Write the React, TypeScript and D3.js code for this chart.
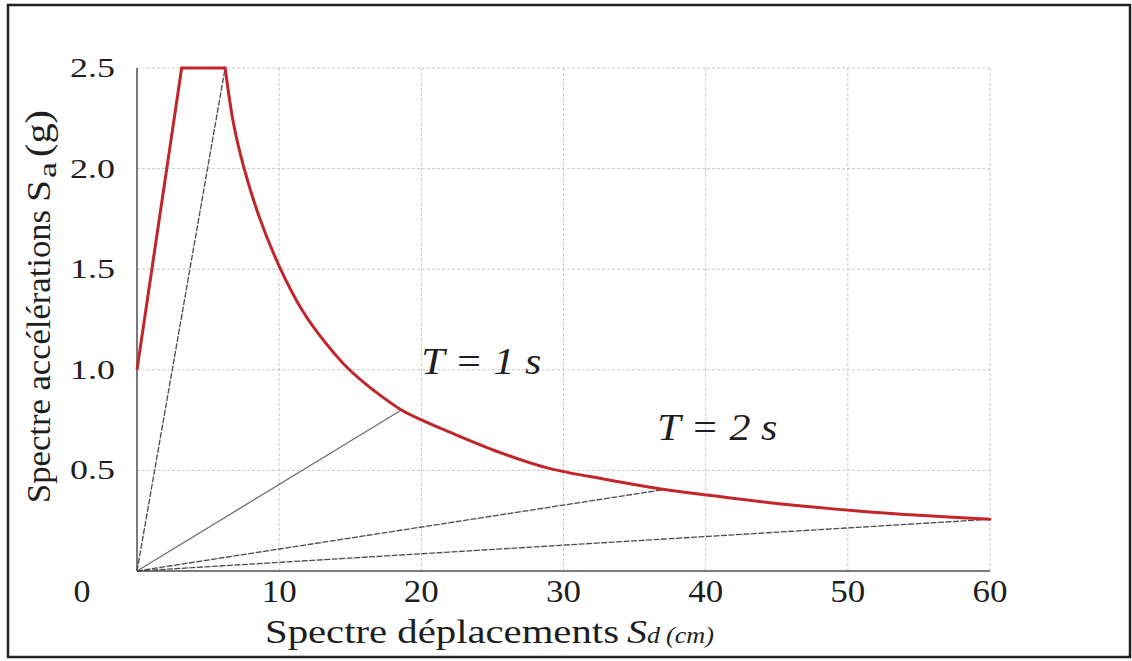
import React from "react";
import * as d3 from "d3";

// Spectral displacement Sd (cm) vs spectral acceleration Sa (g), ADRS format
const rampSd = [0, 3.14, 6.2];
const rampSa = [1.0, 2.5, 2.5];

// Constant-velocity branch, down to the corner near Sd = 16.6 cm
const velocitySd = [6.2, 6.8, 7.5, 8.6, 10.1, 11.5, 12.7, 14.8, 16.6];
const velocitySa = [2.5, 2.22, 2.01, 1.76, 1.5, 1.31, 1.185, 1.01, 0.9];

// Long-period branch out to 60 cm
const longSd = [16.6, 18.6, 20.2, 22, 25.5, 29, 33, 37.1, 40.4, 45, 50.5, 55, 60];
const longSa = [0.9, 0.8, 0.745, 0.69, 0.59, 0.51, 0.455, 0.405, 0.375, 0.336, 0.3, 0.277, 0.257];

// Radial period lines from the origin to the spectrum
const periodSd = [6.2, 18.6, 37.1, 60];
const periodSa = [2.5, 0.8, 0.405, 0.257];
const periodDashed = [true, false, true, true];

const xTicks = [10, 20, 30, 40, 50, 60];
const xTickLabels = ["10", "20", "30", "40", "50", "60"];
const yTicks = [0.5, 1.0, 1.5, 2.0, 2.5];
const yTickLabels = ["0.5", "1.0", "1.5", "2.0", "2.5"];

const periodLabels = ["T = 1 s", "T = 2 s"];
const periodLabelSd = [20, 36.6];
const periodLabelSa = [0.98, 0.65];

const W = 1132;
const H = 661;
const serif = { fontFamily: "Liberation Serif" };

export default function App() {
  const x = d3.scaleLinear().domain([0, 60]).range([137, 990]);
  const y = d3.scaleLinear().domain([0, 2.5]).range([571, 68]);

  const pairs = (xs: number[], ys: number[]) => xs.map((d, i) => [d, ys[i]] as [number, number]);

  const linear = d3
    .line<[number, number]>()
    .x((d) => x(d[0]))
    .y((d) => y(d[1]));
  const smooth = d3
    .line<[number, number]>()
    .x((d) => x(d[0]))
    .y((d) => y(d[1]))
    .curve(d3.curveCatmullRom.alpha(0.5));

  const red = "#c1262b";
  const ink = "#1e1e1e";

  return (
    <svg width={W} height={H} style={{ position: "absolute", left: 0, top: 0, background: "#fff" }}>
      <rect x={0} y={0} width={W} height={H} fill="#fff" />
      {/* outer frame */}
      <rect x={8} y={5} width={1122} height={652} fill="none" stroke="#222" strokeWidth={2.5} />

      {/* grid */}
      {xTicks.map((t) => (
        <line
          key={"gx" + t}
          x1={x(t)}
          x2={x(t)}
          y1={y(0)}
          y2={y(2.5)}
          stroke="#c8c8c8"
          strokeWidth={1}
          strokeDasharray="3,2"
        />
      ))}
      {yTicks.map((t) => (
        <line
          key={"gy" + t}
          x1={x(0)}
          x2={x(60)}
          y1={y(t)}
          y2={y(t)}
          stroke="#c8c8c8"
          strokeWidth={1}
          strokeDasharray="3,2"
        />
      ))}

      {/* axes */}
      <line x1={x(0)} x2={x(0)} y1={y(0)} y2={y(2.5)} stroke="#7a7a7a" strokeWidth={2} />
      <line x1={x(0)} x2={x(60)} y1={y(0)} y2={y(0)} stroke="#7a7a7a" strokeWidth={2} />

      {/* period lines */}
      {periodSd.map((sd, i) => (
        <line
          key={"p" + i}
          x1={x(0)}
          y1={y(0)}
          x2={x(sd)}
          y2={y(periodSa[i])}
          stroke={periodDashed[i] ? "#4a4a4a" : "#6e6e6e"}
          strokeWidth={1.3}
          strokeDasharray={periodDashed[i] ? "6,1.5" : undefined}
        />
      ))}

      {/* spectrum */}
      <path d={linear(pairs(rampSd, rampSa)) ?? ""} fill="none" stroke={red} strokeWidth={3} />
      <path d={smooth(pairs(velocitySd, velocitySa)) ?? ""} fill="none" stroke={red} strokeWidth={3} strokeLinecap="round" />
      <path d={smooth(pairs(longSd, longSa)) ?? ""} fill="none" stroke={red} strokeWidth={3} strokeLinecap="round" />

      {/* y tick labels */}
      {yTicks.map((t, i) => (
        <text
          key={"yt" + t}
          x={115}
          y={y(t) + 9}
          fontSize={27}
          textAnchor="end"
          textLength={45}
          lengthAdjust="spacingAndGlyphs"
          fill={ink}
          style={serif}
        >
          {yTickLabels[i]}
        </text>
      ))}

      {/* x tick labels */}
      {xTicks.map((t, i) => (
        <text
          key={"xt" + t}
          x={x(t)}
          y={602}
          fontSize={31}
          textAnchor="middle"
          textLength={35}
          lengthAdjust="spacingAndGlyphs"
          fill={ink}
          style={serif}
        >
          {xTickLabels[i]}
        </text>
      ))}
      <text x={82} y={602} fontSize={31} textAnchor="middle" textLength={17} lengthAdjust="spacingAndGlyphs" fill={ink} style={serif}>
        0
      </text>

      {/* x axis title */}
      <text x={265} y={643} fontSize={33} textLength={354} lengthAdjust="spacingAndGlyphs" fill={ink} style={serif}>
        Spectre déplacements
      </text>
      <text x={627} y={643} fontSize={33} fontStyle="italic" textLength={20} lengthAdjust="spacingAndGlyphs" fill={ink} style={serif}>
        S
      </text>
      <text x={647} y={643} fontSize={24} fontStyle="italic" textLength={13} lengthAdjust="spacingAndGlyphs" fill={ink} style={serif}>
        d
      </text>
      <text x={666} y={643} fontSize={24} fontStyle="italic" textLength={48} lengthAdjust="spacingAndGlyphs" fill={ink} style={serif}>
        (cm)
      </text>

      {/* y axis title */}
      <g transform="translate(50,0) scale(1.15,1) rotate(-90)">
        <text x={-503} y={0} fontSize={29} textLength={293} lengthAdjust="spacingAndGlyphs" fill={ink} style={serif}>
          Spectre accélérations
        </text>
        <text x={-202} y={0} fontSize={29} textLength={22} lengthAdjust="spacingAndGlyphs" fill={ink} style={serif}>
          S
        </text>
        <text x={-178} y={5} fontSize={21} textLength={16} lengthAdjust="spacingAndGlyphs" fill={ink} style={serif}>
          a
        </text>
        <text x={-157} y={0} fontSize={31} textLength={47} lengthAdjust="spacingAndGlyphs" fill={ink} style={serif}>
          (g)
        </text>
      </g>

      {/* period annotations */}
      {periodLabels.map((lab, i) => (
        <text
          key={lab}
          x={x(periodLabelSd[i])}
          y={y(periodLabelSa[i])}
          fontSize={37}
          fontStyle="italic"
          textLength={120}
          lengthAdjust="spacingAndGlyphs"
          fill={ink}
          style={serif}
        >
          {lab}
        </text>
      ))}
    </svg>
  );
}
